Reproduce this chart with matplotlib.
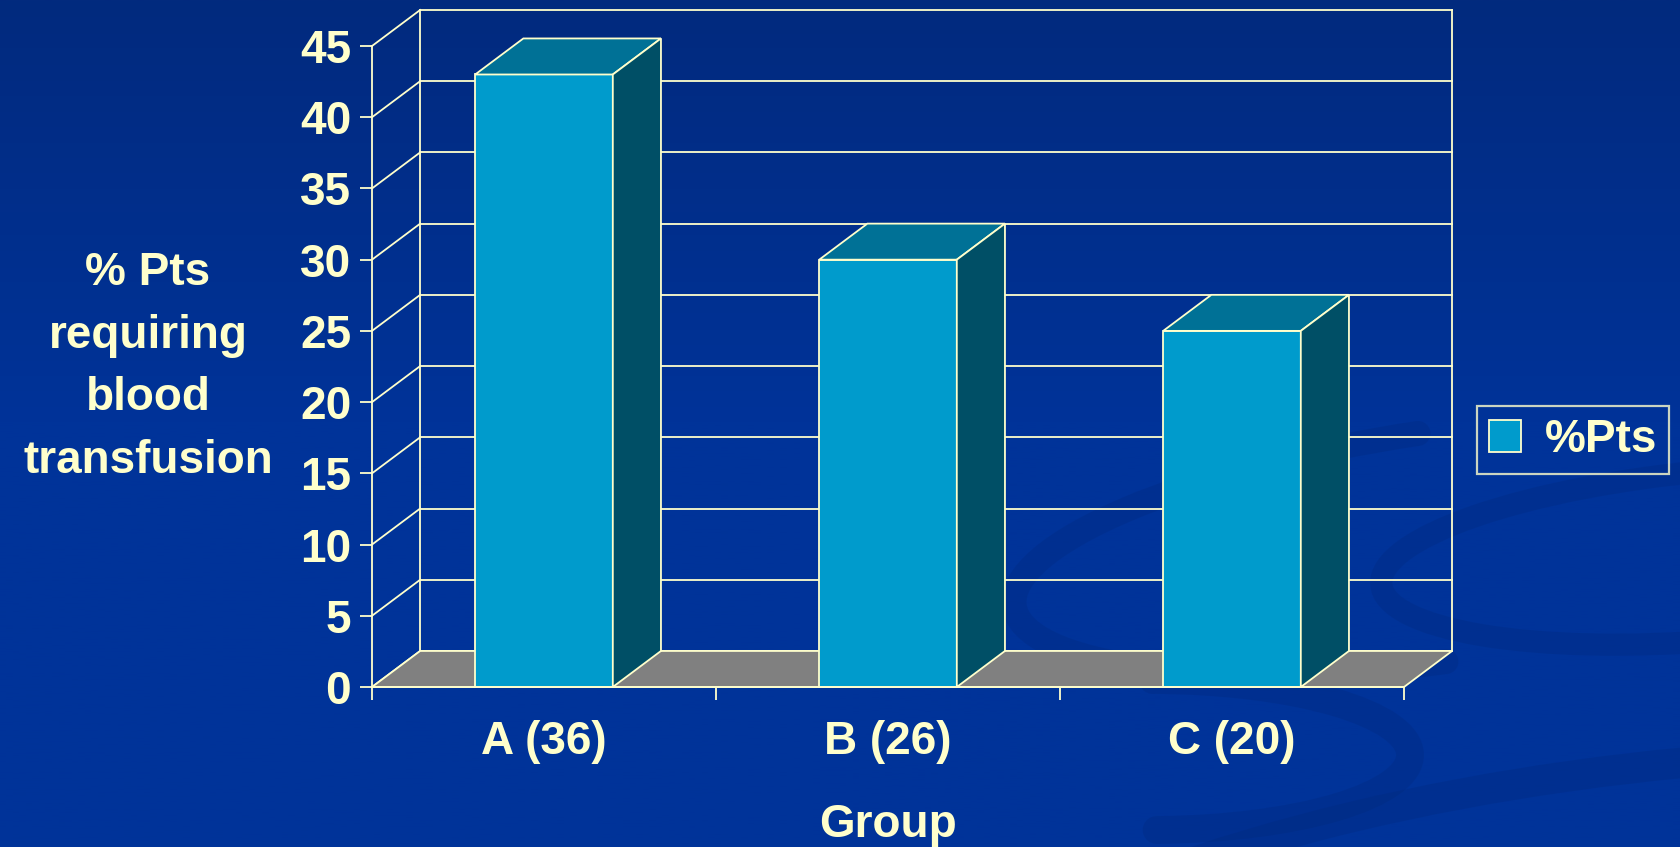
import numpy as np
import matplotlib.pyplot as plt
from matplotlib.patches import Polygon, Arc
from matplotlib.colors import LinearSegmentedColormap

groups = ["A (36)", "B (26)", "C (20)"]
pct_pts = [43, 30, 25]
y_ticks = [0, 5, 10, 15, 20, 25, 30, 35, 40, 45]

cream = "#FFFFCC"
front_c = "#009BCC"
top_c = "#007196"
side_c = "#004F66"
floor_c = "#808080"
lw = 1.3

plt.rcParams["font.family"] = ["Liberation Sans", "DejaVu Sans"]
plt.rcParams["font.weight"] = "bold"

fig = plt.figure(figsize=(16.8, 8.47), dpi=100)

# slide background: dark gradient and faint swirls
bg = fig.add_axes([0, 0, 1, 1], zorder=-5)
bg.set_xlim(0, 1680)
bg.set_ylim(847, 0)
bg.axis("off")
grad = np.clip(np.linspace(0, 1, 300) / 0.5, 0, 1)[:, None]
cmap = LinearSegmentedColormap.from_list("slide", ["#022a7e", "#003399"])
bg.imshow(grad, cmap=cmap, extent=(0, 1680, 847, 0), aspect="auto", vmin=0, vmax=1)
swirl = "#00287a"
swirls = [
    ((1450, 545), 880, 230, -8, 100, 262, 18),
    ((1720, 555), 680, 170, -5, 95, 268, 16),
    ((1150, 755), 520, 150, 0, -88, 85, 20),
    ((1950, 1300), 2500, 1100, 0, 200, 255, 22),
]
for c, w, h, ang, t1, t2, sw in swirls:
    bg.add_patch(Arc(c, w, h, angle=ang, theta1=t1, theta2=t2,
                     lw=sw, color=swirl, alpha=0.28, capstyle="round"))

# chart axes: front plane of the 3D box
ax = fig.add_axes([372 / 1680, 160 / 847, 1032 / 1680, 641 / 847])
ax.set_xlim(0, 3)
ax.set_ylim(0, 45)
ax.patch.set_visible(False)
dx, dy = 0.14, 2.53

# back wall and side wall grid
for t in y_ticks:
    ax.plot([dx, 3 + dx], [t + dy, t + dy], color=cream, lw=lw, clip_on=False, zorder=1)
    ax.plot([0, dx], [t, t + dy], color=cream, lw=lw, clip_on=False, zorder=1)
for xw in (dx, 3 + dx):
    ax.plot([xw, xw], [dy, 45 + dy], color=cream, lw=lw, clip_on=False, zorder=1)

# floor
ax.add_patch(Polygon([(0, 0), (3, 0), (3 + dx, dy), (dx, dy)], closed=True,
                     fc=floor_c, ec=cream, lw=lw, clip_on=False, zorder=2))

# bars
xpos = np.arange(len(groups)) + 0.5
bars = ax.bar(xpos, pct_pts, width=0.4, color=front_c, edgecolor=cream,
              linewidth=lw, label="%Pts", zorder=4, clip_on=False)
for b, v in zip(bars, pct_pts):
    x0 = b.get_x()
    x1 = x0 + b.get_width()
    ax.add_patch(Polygon([(x0, v), (x1, v), (x1 + dx, v + dy), (x0 + dx, v + dy)],
                         closed=True, fc=top_c, ec=cream, lw=lw, zorder=4, clip_on=False))
    ax.add_patch(Polygon([(x1, 0), (x1 + dx, dy), (x1 + dx, v + dy), (x1, v)],
                         closed=True, fc=side_c, ec=cream, lw=lw, zorder=4, clip_on=False))

for s in ("top", "right"):
    ax.spines[s].set_visible(False)
for s in ("left", "bottom"):
    ax.spines[s].set_color(cream)
    ax.spines[s].set_linewidth(lw)
    ax.spines[s].set_zorder(5)

ax.set_yticks(y_ticks)
ax.tick_params(axis="y", direction="out", length=9, width=lw, color=cream,
               labelcolor=cream, labelsize=33, pad=6)
ax.set_xticks(xpos, groups)
ax.set_xticks([0, 1, 2, 3], minor=True)
ax.tick_params(axis="x", which="major", length=0, pad=24, labelsize=33,
               labelcolor=cream)
ax.tick_params(axis="x", which="minor", direction="out", length=9, width=lw,
               color=cream)

fig.text(148 / 1680, 1 - 367 / 847, "% Pts\nrequiring\nblood\ntransfusion",
         ha="center", va="center", multialignment="center", fontsize=33,
         color=cream, linespacing=1.55)
fig.text(888 / 1680, 1 - 825 / 847, "Group", ha="center", va="center",
         fontsize=33, color=cream)

leg = ax.legend(handles=[bars], loc="center left",
                bbox_to_anchor=(1477 / 1680, 1 - 440 / 847),
                bbox_transform=fig.transFigure, borderaxespad=0,
                fontsize=33, handlelength=0.7, handleheight=0.7,
                handletextpad=0.5, borderpad=0.27, fancybox=False,
                labelcolor=cream)
leg.get_frame().set_facecolor("none")
leg.get_frame().set_edgecolor(cream)
leg.get_frame().set_linewidth(1.6)

fig.savefig("out.png", dpi=100)
